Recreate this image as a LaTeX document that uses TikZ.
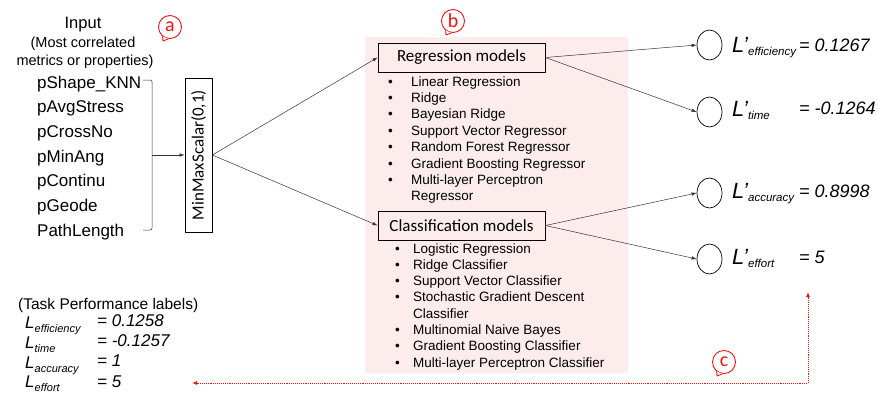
\documentclass[tikz,border=0pt]{standalone}
\usepackage{fontspec}
\setmainfont{Liberation Sans}
\newfontfamily\calfont{Carlito}
\usetikzlibrary{arrows.meta,calc,shapes.geometric}
\definecolor{pinkbg}{RGB}{253,236,236}
\definecolor{bubred}{RGB}{235,20,20}
\newcommand\fsz[1]{\fontsize{#1}{#1}\selectfont}
\newcommand\sbs[1]{\raisebox{-3.5pt}{\fsz{11.5}\itshape #1}}
\newcommand\sbb[1]{\raisebox{-4pt}{\fsz{11}\itshape #1}}
\tikzset{
  txt/.style={anchor=base west,inner sep=0pt},
  inlist/.style={txt,font=\fsz{17}},
  blt/.style={txt,font=\fsz{13.5}},
  modelbox/.style={draw,line width=0.8pt,inner sep=0pt,minimum width=167pt,minimum height=29pt,font=\calfont\fsz{17}},
  outnode/.style={draw,line width=0.7pt,ellipse,minimum width=25pt,minimum height=30pt,inner sep=0pt},
  conn/.style={line width=0.5pt,draw=black!80,-{Latex[length=5pt,width=3.5pt]}},
  bub/.style={circle,draw=bubred,text=bubred,line width=0.9pt,minimum size=23pt,inner sep=0pt,font=\calfont\fsz{20}},
  redarrow/.style={bubred,line width=0.9pt,densely dotted,{Latex[length=5pt,width=4pt]}-{Latex[length=5pt,width=4pt]}},
}
\begin{document}
\begin{tikzpicture}[x=1pt,y=-1pt]
\useasboundingbox (0,0) rectangle (878,397);
% pink background
\fill[pinkbg] (365,37) rectangle (628,373);

% Input heading
\node[anchor=base,inner sep=0pt,font=\fsz{16.5}] (inTitle) at (83,28) {Input};
\node[anchor=base,inner sep=0pt,font=\fsz{14.5}] (inSub1) at (83,47) {(Most correlated};
\node[anchor=base,inner sep=0pt,font=\fsz{14.5}] (inSub2) at (85,65) {metrics or properties)};

% Input list
\node[inlist] (i1) at (37,88) {pShape\_KNN};
\node[inlist] (i2) at (37,112.7) {pAvgStress};
\node[inlist] (i3) at (37,137.4) {pCrossNo};
\node[inlist] (i4) at (37,162) {pMinAng};
\node[inlist] (i5) at (37,186.7) {pContinu};
\node[inlist] (i6) at (37,211.4) {pGeode};
\node[inlist] (i7) at (37,236) {PathLength};

% bracket
\coordinate (bt) at (143,80);
\coordinate (bb) at (143,230);
\coordinate (bm) at (152,155);
\draw[line width=0.5pt,draw=black!80,rounded corners=2pt] (bt) -- (152,80) -- (152,230) -- (bb);

% MinMaxScalar box
\node[draw,line width=0.8pt,rotate=90,minimum width=154pt,minimum height=27pt,inner sep=0pt,font=\calfont\fsz{17}] (mm) at (198.5,155) {MinMaxScalar(0,1)};
\draw[conn] (bm) -- (mm.north);

% model boxes
\node[modelbox] (reg) at (461.5,57.5) {Regression models};
\node[modelbox] (cls) at (461.5,225.5) {Classification models};
\draw[conn] (mm.south) -- (reg.west);
\draw[conn] (mm.south) -- (cls.west);

% regression list
\foreach \y/\t [count=\k] in {86/Linear Regression,102.4/Ridge,118.8/Bayesian Ridge,135.2/Support Vector Regressor,151.6/Random Forest Regressor,168/Gradient Boosting Regressor,184.4/Multi-layer Perceptron}{
  \node[blt] (rb\k) at (388,\y) {\textbullet};
  \node[blt] (rt\k) at (411,\y) {\t};
}
\node[blt] (rt8) at (411,200.8) {Regressor};

% classification list
\foreach \y/\t [count=\k] in {253/Logistic Regression,269.3/Ridge Classifier,285.6/Support Vector Classifier,301.9/Stochastic Gradient Descent,334.5/Multinomial Naive Bayes,350.8/Gradient Boosting Classifier,367.1/Multi-layer Perceptron Classifier}{
  \node[blt] (cb\k) at (395,\y) {\textbullet};
  \node[blt] (ct\k) at (413,\y) {\t};
}
\node[blt] (ct8) at (413,318.2) {Classifier};

% outputs
\node[outnode] (o1) at (709.5,45) {};
\node[outnode] (o2) at (709.5,112) {};
\node[outnode] (o3) at (709.5,193) {};
\node[outnode] (o4) at (709.5,259) {};
\draw[conn] (reg.east) -- (o1.west);
\draw[conn] (reg.east) -- (o2.west);
\draw[conn] (cls.east) -- (o3.west);
\draw[conn] (cls.east) -- (o4.west);

\node[txt,font=\fsz{22}\itshape] (l1) at (732,52) {L’\sbs{efficiency}};
\node[txt,font=\fsz{22}\itshape] (l2) at (732,116) {L’\sbs{time}};
\node[txt,font=\fsz{22}\itshape] (l3) at (732,198) {L’\sbs{accuracy}};
\node[txt,font=\fsz{22}\itshape] (l4) at (732,264) {L’\sbs{effort}};
\node[txt,font=\fsz{18}\itshape] (v1) at (799,51) {= 0.1267};
\node[txt,font=\fsz{18}\itshape] (v2) at (799,114) {= -0.1264};
\node[txt,font=\fsz{18}\itshape] (v3) at (799,197) {= 0.8998};
\node[txt,font=\fsz{18}\itshape] (v4) at (799,263) {= 5};

% task performance labels
\node[txt,font=\fsz{15.5}] (tp) at (18,309.5) {(Task Performance labels)};
\node[txt,font=\fsz{17}\itshape] (b1) at (25,328) {L\sbb{efficiency}};
\node[txt,font=\fsz{17}\itshape] (b2) at (25,348) {L\sbb{time}};
\node[txt,font=\fsz{17}\itshape] (b3) at (25,368) {L\sbb{accuracy}};
\node[txt,font=\fsz{17}\itshape] (b4) at (25,387.5) {L\sbb{effort}};
\node[txt,font=\fsz{17}\itshape] (bv1) at (97,326) {= 0.1258};
\node[txt,font=\fsz{17}\itshape] (bv2) at (97,346) {= -0.1257};
\node[txt,font=\fsz{17}\itshape] (bv3) at (97,366) {= 1};
\node[txt,font=\fsz{17}\itshape] (bv4) at (97,387) {= 5};

% red feedback arrow
\coordinate (rUp) at (808,292);
\coordinate (rCorner) at (808,383);
\coordinate (rLeft) at (192,383);
\draw[redarrow] (rUp) -- (rCorner) -- (rLeft);

% speech bubbles
\foreach \nm/\pos/\lt in {ba/{(170,27)}/a,bb/{(453,21)}/b,bc/{(724,362)}/c}{
  \node[bub] (\nm) at \pos {\lt};
  \fill[white] (\nm.232) -- ($(\nm.center)+(-7,14)$) -- (\nm.262) -- cycle;
  \draw[bubred,line width=0.9pt,line join=round] (\nm.232) -- ($(\nm.center)+(-7,14)$) -- (\nm.262);
}
\end{tikzpicture}
\end{document}
